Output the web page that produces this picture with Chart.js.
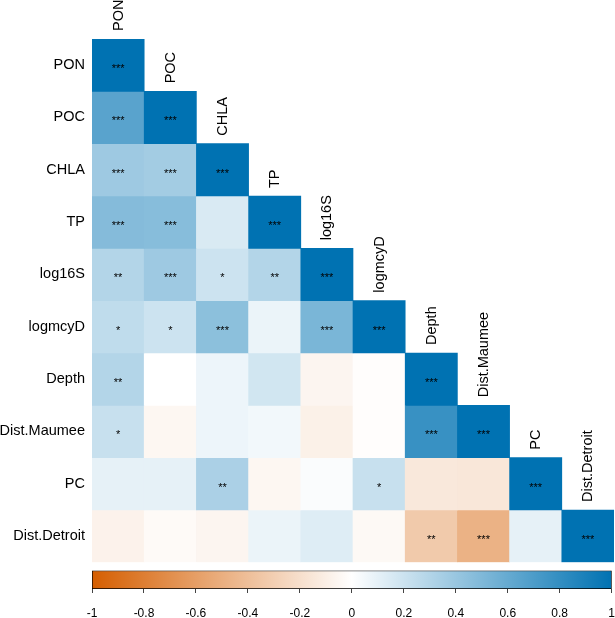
<!DOCTYPE html>
<html>
<head>
<meta charset="utf-8">
<script src="https://cdn.jsdelivr.net/npm/chart.js@4/dist/chart.umd.min.js"></script>
<style>
  html, body { margin:0; padding:0; background:#fff; overflow:hidden; }
  #wrap { position:relative; width:615px; height:618px; overflow:hidden; }
  #cMain { position:absolute; left:0; top:0; }
  #cBar  { position:absolute; left:0; top:561px; }
</style>
</head>
<body>
<div id="wrap">
  <canvas id="cMain" width="615" height="578"></canvas>
  <canvas id="cBar" width="628" height="57"></canvas>
</div>
<script>
// Variáveis (ordem da matriz)
const variaveis = ['PON','POC','CHLA','TP','log16S','logmcyD','Depth','Dist.Maumee','PC','Dist.Detroit'];

// Correlações — triângulo inferior, uma linha por variável
const corPON      = [1];
const corPOC      = [0.65, 1];
const corCHLA     = [0.38, 0.36, 1];
const corTP       = [0.48, 0.47, 0.15, 1];
const corLog16S   = [0.30, 0.38, 0.20, 0.30, 1];
const corLogmcyD  = [0.25, 0.20, 0.45, 0.08, 0.52, 1];
const corDepth    = [0.30, 0.00, 0.07, 0.18, -0.06, -0.01, 1];
const corMaumee   = [0.22, -0.05, 0.07, 0.05, -0.09, -0.01, 0.78, 1];
const corPC       = [0.10, 0.10, 0.33, -0.05, 0.02, 0.22, -0.14, -0.15, 1];
const corDetroit  = [-0.08, -0.03, -0.06, 0.08, 0.13, -0.04, -0.33, -0.48, 0.10, 1];

// Significância (estrelas)
const sigPON      = ['***'];
const sigPOC      = ['***','***'];
const sigCHLA     = ['***','***','***'];
const sigTP       = ['***','***','','***'];
const sigLog16S   = ['**','***','*','**','***'];
const sigLogmcyD  = ['*','*','***','','***','***'];
const sigDepth    = ['**','','','','','','***'];
const sigMaumee   = ['*','','','','','','***','***'];
const sigPC       = ['','','**','','','*','','','***'];
const sigDetroit  = ['','','','','','','**','***','','***'];

// Ticks da barra de cores
const escalaTicks = [-1,-0.8,-0.6,-0.4,-0.2,0,0.2,0.4,0.6,0.8,1];

const linhasCor = [corPON,corPOC,corCHLA,corTP,corLog16S,corLogmcyD,corDepth,corMaumee,corPC,corDetroit];
const linhasSig = [sigPON,sigPOC,sigCHLA,sigTP,sigLog16S,sigLogmcyD,sigDepth,sigMaumee,sigPC,sigDetroit];

const N = variaveis.length;
const FONTE = '"Liberation Sans", Arial, sans-serif';
const COR_NEG = [213, 94, 0];
const COR_POS = [0, 114, 178];

function corDaEscala(v) {
  const alvo = v < 0 ? COR_NEG : COR_POS;
  const t = Math.min(Math.abs(v), 1);
  const c = alvo.map(a => Math.round(255 + (a - 255) * t));
  return `rgb(${c[0]},${c[1]},${c[2]})`;
}

// Um dataset por linha: barras flutuantes [base, topo]
const datasets = linhasCor.map((linha, i) => ({
  label: variaveis[i],
  data: variaveis.map((_, j) => j <= i ? [N - 1 - i, N - i] : null),
  backgroundColor: ctx => {
    const v = linha[ctx.dataIndex];
    return v == null ? 'rgba(0,0,0,0)' : corDaEscala(v);
  },
  borderWidth: 0,
  grouped: false,
  barPercentage: 1,
  categoryPercentage: 1,
}));

// Estrelas + rótulos das colunas
const pluginTextos = {
  id: 'textos',
  afterDatasetsDraw(chart) {
    const { ctx, scales: { x, y } } = chart;
    ctx.save();
    ctx.fillStyle = '#000';
    ctx.font = '11px ' + FONTE;
    ctx.textAlign = 'center';
    ctx.textBaseline = 'alphabetic';
    linhasSig.forEach((linha, i) => {
      const cy = y.getPixelForValue(N - 0.5 - i);
      linha.forEach((s, j) => {
        if (!s) return;
        ctx.fillText(s, x.getPixelForValue(j), cy + 7);
      });
    });
    // rótulos verticais acima da diagonal
    ctx.font = '14.5px ' + FONTE;
    ctx.textAlign = 'left';
    ctx.textBaseline = 'middle';
    variaveis.forEach((nome, j) => {
      const topo = y.getPixelForValue(N - j);
      ctx.save();
      ctx.translate(x.getPixelForValue(j) + 0.5, topo - 8);
      ctx.rotate(-Math.PI / 2);
      ctx.fillText(nome, 0, 0);
      ctx.restore();
    });
    ctx.restore();
  }
};

new Chart(document.getElementById('cMain'), {
  type: 'bar',
  data: { labels: variaveis, datasets },
  options: {
    responsive: false,
    animation: false,
    layout: { autoPadding: false, padding: { top: 39, right: 1, bottom: 1, left: 0 } },
    plugins: { legend: { display: false }, tooltip: { enabled: false } },
    scales: {
      x: { display: false, grid: { display: false } },
      y: {
        min: 0, max: N,
        grid: { display: false, drawTicks: false },
        border: { display: false },
        afterBuildTicks: axis => { axis.ticks = variaveis.map((_, i) => ({ value: N - 0.5 - i })); },
        afterFit: s => { s.width = 92; },
        ticks: {
          autoSkip: false,
          padding: 7,
          color: '#000',
          font: { family: FONTE, size: 14.5 },
          callback: v => variaveis[Math.round(N - 0.5 - v)],
        },
      },
    },
  },
  plugins: [pluginTextos],
});

// Barra de cores (-1 .. 1)
new Chart(document.getElementById('cBar'), {
  type: 'bar',
  data: {
    labels: ['escala'],
    datasets: [{
      data: [[-1, 1]],
      backgroundColor: ctx => {
        const area = ctx.chart.chartArea;
        if (!area) return '#fff';
        const g = ctx.chart.ctx.createLinearGradient(area.left, 0, area.right, 0);
        g.addColorStop(0, corDaEscala(-1));
        g.addColorStop(0.5, '#ffffff');
        g.addColorStop(1, corDaEscala(1));
        return g;
      },
      borderColor: '#000',
      borderWidth: 1,
      borderSkipped: false,
      barPercentage: 1,
      categoryPercentage: 1,
    }],
  },
  options: {
    indexAxis: 'y',
    responsive: false,
    animation: false,
    layout: { autoPadding: false, padding: { top: 9.5, right: 2, bottom: 0, left: 92 } },
    plugins: { legend: { display: false }, tooltip: { enabled: false } },
    scales: {
      y: { display: false },
      x: {
        min: -1, max: 1,
        afterBuildTicks: axis => { axis.ticks = escalaTicks.map(v => ({ value: v })); },
        afterFit: s => { s.height = 29; },
        grid: { drawOnChartArea: false, drawTicks: true, tickLength: 4, color: '#444' },
        border: { display: false },
        ticks: {
          autoSkip: false,
          maxRotation: 0,
          padding: 13,
          color: '#000',
          font: { family: FONTE, size: 12 },
          callback: v => String(Math.round(v * 10) / 10),
        },
      },
    },
  },
});
</script>
</body>
</html>
